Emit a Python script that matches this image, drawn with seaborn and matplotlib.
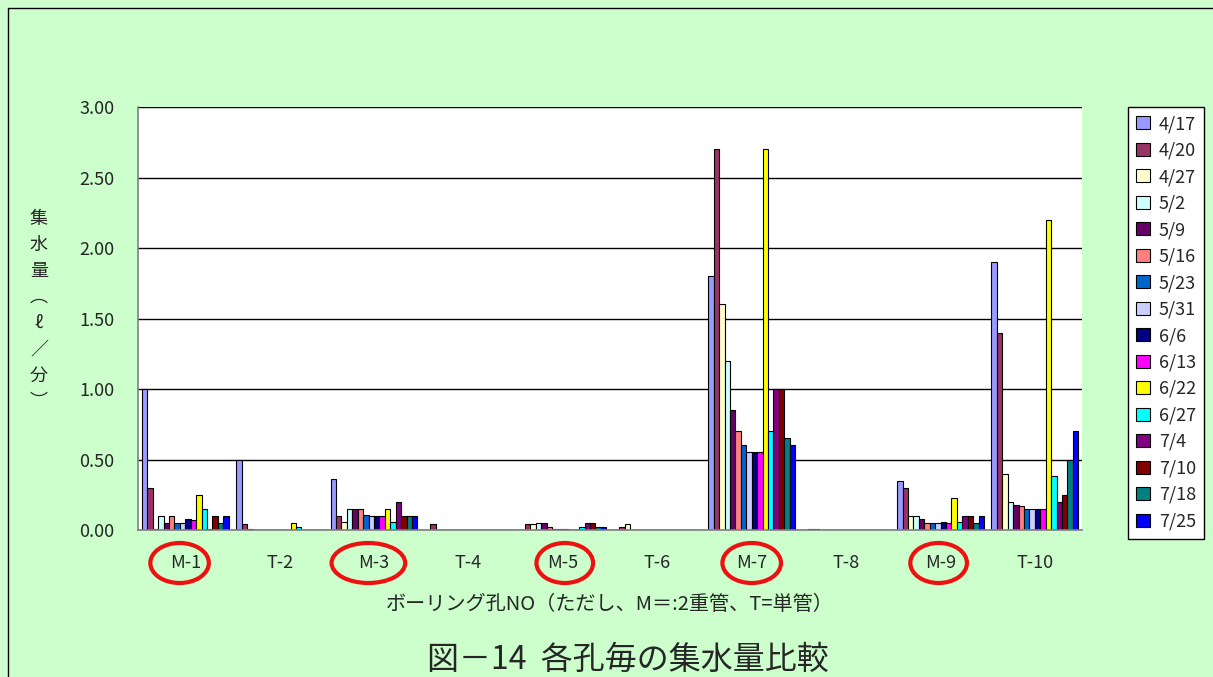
import matplotlib
matplotlib.use("Agg")
import matplotlib.pyplot as plt
from matplotlib.patches import Ellipse, Rectangle
from matplotlib import transforms
import seaborn as sns
import pandas as pd
import numpy as np

# ボーリング孔
holes = ["M-1", "T-2", "M-3", "T-4", "M-5", "T-6", "M-7", "T-8", "M-9", "T-10"]
dates = ["4/17", "4/20", "4/27", "5/2", "5/9", "5/16", "5/23", "5/31",
         "6/6", "6/13", "6/22", "6/27", "7/4", "7/10", "7/18", "7/25"]

# 集水量 (ℓ/分) 日付ごと
v_0417 = [1.00, 0.50, 0.36, 0.00, 0.00, 0.00, 1.80, 0.00, 0.35, 1.90]
v_0420 = [0.30, 0.04, 0.10, 0.04, 0.04, 0.02, 2.70, 0.01, 0.30, 1.40]
v_0427 = [0.01, 0.01, 0.06, 0.00, 0.04, 0.04, 1.60, 0.01, 0.10, 0.40]
v_0502 = [0.10, 0.00, 0.15, 0.00, 0.05, 0.00, 1.20, 0.00, 0.10, 0.20]
v_0509 = [0.05, 0.00, 0.15, 0.00, 0.05, 0.00, 0.85, 0.00, 0.08, 0.18]
v_0516 = [0.10, 0.00, 0.15, 0.00, 0.02, 0.00, 0.70, 0.00, 0.05, 0.17]
v_0523 = [0.05, 0.00, 0.11, 0.00, 0.01, 0.00, 0.60, 0.00, 0.05, 0.15]
v_0531 = [0.05, 0.00, 0.10, 0.00, 0.01, 0.00, 0.55, 0.00, 0.05, 0.15]
v_0606 = [0.08, 0.00, 0.10, 0.00, 0.01, 0.00, 0.55, 0.00, 0.06, 0.15]
v_0613 = [0.07, 0.00, 0.10, 0.00, 0.00, 0.00, 0.55, 0.00, 0.05, 0.15]
v_0622 = [0.25, 0.05, 0.15, 0.00, 0.00, 0.00, 2.70, 0.00, 0.23, 2.20]
v_0627 = [0.15, 0.02, 0.06, 0.00, 0.02, 0.00, 0.70, 0.00, 0.06, 0.38]
v_0704 = [0.01, 0.00, 0.20, 0.00, 0.05, 0.00, 1.00, 0.00, 0.10, 0.20]
v_0710 = [0.10, 0.00, 0.10, 0.00, 0.05, 0.00, 1.00, 0.00, 0.10, 0.25]
v_0718 = [0.05, 0.00, 0.10, 0.00, 0.02, 0.00, 0.65, 0.00, 0.05, 0.50]
v_0725 = [0.10, 0.00, 0.10, 0.00, 0.02, 0.00, 0.60, 0.00, 0.10, 0.70]

series = [v_0417, v_0420, v_0427, v_0502, v_0509, v_0516, v_0523, v_0531,
          v_0606, v_0613, v_0622, v_0627, v_0704, v_0710, v_0718, v_0725]

colors = ["#9999FF", "#993366", "#FFFFCC", "#CCFFFF", "#660066", "#FF8080",
          "#0066CC", "#CCCCFF", "#000080", "#FF00FF", "#FFFF00", "#00FFFF",
          "#800080", "#800000", "#008080", "#0000FF"]

# 丸で囲む孔
circled = ["M-1", "M-3", "M-5", "M-7", "M-9"]

rows = []
for d, vals in zip(dates, series):
    for h, v in zip(holes, vals):
        rows.append({"hole": h, "date": d, "value": v})
df = pd.DataFrame(rows)

sns.set_style("white")
plt.rcParams["font.family"] = ["Noto Sans CJK JP", "DejaVu Sans"]

bg = "#CCFFCC"
fig = plt.figure(figsize=(12.13, 6.77), dpi=100, facecolor=bg)
ax = fig.add_axes([0.1138, 0.2171, 0.7783, 0.6248])
ax.set_facecolor("white")

sns.barplot(data=df, x="hole", y="value", hue="date", order=holes,
            hue_order=dates, palette=colors, saturation=1, width=0.92,
            edgecolor="black", linewidth=0.8, ax=ax, legend=True)

ax.set_xlim(-0.5, 9.5)
ax.set_ylim(0, 3.0)
ax.set_yticks(np.arange(0, 3.01, 0.5))
ax.set_yticklabels([f"{t:.2f}" for t in np.arange(0, 3.01, 0.5)], fontsize=13)
ax.yaxis.grid(True, color="black", linewidth=1)
ax.set_axisbelow(True)
ax.set_xticks(range(len(holes)))
ax.set_xticklabels(holes, fontsize=13)
ax.set_xticks(np.arange(-0.5, 10, 1), minor=True)
ax.tick_params(axis="x", which="major", length=0, pad=17)
ax.tick_params(axis="x", which="minor", direction="in", length=5, color="black")
ax.tick_params(axis="y", length=4, direction="out", color="black", pad=13)

for s in ["top", "right"]:
    ax.spines[s].set_visible(False)
for s in ["left", "bottom"]:
    ax.spines[s].set_color("#808080")
    ax.spines[s].set_linewidth(1.2)

ax.set_xlabel("ボーリング孔NO（ただし、M＝:2重管、T=単管）", fontsize=14.5, labelpad=16)
ax.set_ylabel("\n".join("集水量︵ℓ／分︶"), fontsize=13, rotation=0,
              va="center", ha="center", linespacing=1.58)
ax.yaxis.set_label_coords(-0.105, 0.52)

# 凡例
leg = ax.legend(loc="upper left", bbox_to_anchor=(1128 / 1213, 1 - 107 / 677),
                bbox_transform=fig.transFigure, fontsize=13, frameon=True,
                fancybox=False, framealpha=1, edgecolor="black",
                handlelength=0.75, handleheight=0.75, handletextpad=0.5,
                labelspacing=0.47, borderpad=0.45, borderaxespad=0)
leg.get_frame().set_linewidth(1)

# 赤い丸
trans = transforms.blended_transform_factory(ax.transData, fig.transFigure)
ell_dx = {"M-1": -0.06, "M-3": -0.06, "M-5": 0.02, "M-7": 0.0, "M-9": -0.02}
ell_w = {"M-1": 0.62, "M-3": 0.78, "M-5": 0.6, "M-7": 0.62, "M-9": 0.6}
for h in circled:
    i = holes.index(h)
    ax.add_patch(Ellipse((i + ell_dx[h], 1 - 563 / 677), ell_w[h], 40 / 677,
                         transform=trans, fill=False, edgecolor="#EE1111",
                         linewidth=3, clip_on=False))

# 枠
fig.patches.append(Rectangle((8 / 1213, -0.1), 1.1, 1 - 8 / 677 + 0.1,
                             transform=fig.transFigure, fill=False,
                             edgecolor="black", linewidth=1))

fig.text(0.518, 1 - 660 / 677, "図－14  各孔毎の集水量比較", fontsize=23,
         ha="center", va="center")

fig.savefig("out.png", dpi=100, facecolor=bg)
